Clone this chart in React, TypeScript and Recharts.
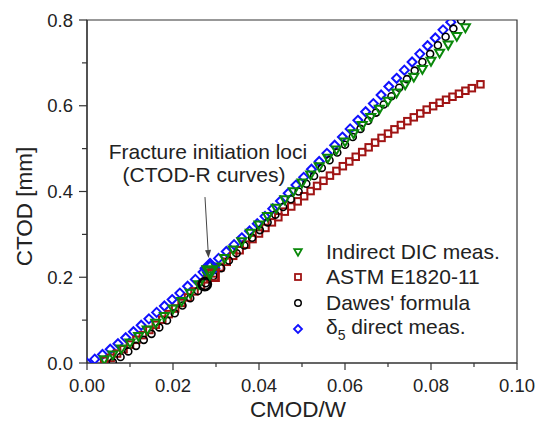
import React from "react";
import {
  ScatterChart,
  Scatter,
  XAxis,
  YAxis,
  ReferenceArea,
  ReferenceLine,
  Label,
} from "recharts";

// CMOD/W vs CTOD [mm]
const blueX = [0, 0.0018, 0.0036, 0.0054, 0.0072, 0.009, 0.0108, 0.0126, 0.0144, 0.0162, 0.018, 0.0198, 0.0216, 0.0234, 0.0252, 0.027, 0.0288, 0.0306, 0.0324, 0.0342, 0.036, 0.0378, 0.0396, 0.0414, 0.0432, 0.045, 0.0468, 0.0486, 0.0504, 0.0522, 0.054, 0.0558, 0.0576, 0.0594, 0.0612, 0.063, 0.0648, 0.0666, 0.0684, 0.0702, 0.072, 0.0738, 0.0756, 0.0774, 0.0792, 0.081, 0.0828, 0.0846];
const blueY = [0, 0.009, 0.02, 0.032, 0.045, 0.059, 0.073, 0.088, 0.103, 0.118, 0.133, 0.148, 0.163, 0.179, 0.195, 0.212, 0.228, 0.244, 0.26, 0.276, 0.292, 0.308, 0.325, 0.342, 0.36, 0.378, 0.396, 0.415, 0.433, 0.452, 0.47, 0.489, 0.508, 0.527, 0.546, 0.566, 0.586, 0.605, 0.625, 0.645, 0.664, 0.683, 0.702, 0.721, 0.74, 0.758, 0.777, 0.795];

const greenX = [0.004, 0.006, 0.008, 0.01, 0.012, 0.014, 0.016, 0.018, 0.02, 0.022, 0.024, 0.026, 0.028, 0.03, 0.032, 0.034, 0.036, 0.038, 0.04, 0.042, 0.044, 0.046, 0.048, 0.05, 0.052, 0.054, 0.056, 0.058, 0.06, 0.062, 0.064, 0.066, 0.068, 0.07, 0.072, 0.074, 0.076, 0.078, 0.08, 0.082, 0.084, 0.086, 0.088];
const greenY = [0.008, 0.019, 0.033, 0.047, 0.062, 0.077, 0.093, 0.109, 0.126, 0.144, 0.163, 0.183, 0.204, 0.224, 0.244, 0.264, 0.283, 0.303, 0.322, 0.342, 0.361, 0.381, 0.4, 0.42, 0.439, 0.458, 0.478, 0.497, 0.516, 0.535, 0.554, 0.573, 0.592, 0.611, 0.63, 0.649, 0.667, 0.685, 0.704, 0.723, 0.742, 0.762, 0.782];

const blackX = [0.006, 0.0078, 0.0096, 0.0114, 0.0132, 0.015, 0.0168, 0.0186, 0.0204, 0.0222, 0.024, 0.0258, 0.0276, 0.0294, 0.0312, 0.033, 0.0348, 0.0366, 0.0384, 0.0402, 0.042, 0.0438, 0.0456, 0.0474, 0.0492, 0.051, 0.0528, 0.0546, 0.0564, 0.0582, 0.06, 0.0618, 0.0636, 0.0654, 0.0672, 0.069, 0.0708, 0.0726, 0.0744, 0.0762, 0.078, 0.0798, 0.0816, 0.0834, 0.0852, 0.087];
const blackY = [0.002, 0.014, 0.027, 0.04, 0.054, 0.068, 0.083, 0.099, 0.116, 0.134, 0.151, 0.168, 0.186, 0.203, 0.221, 0.239, 0.256, 0.274, 0.292, 0.31, 0.328, 0.346, 0.364, 0.382, 0.4, 0.418, 0.436, 0.455, 0.473, 0.491, 0.509, 0.527, 0.546, 0.565, 0.584, 0.603, 0.622, 0.642, 0.662, 0.682, 0.702, 0.721, 0.741, 0.761, 0.78, 0.799];

const redX = [0.004, 0.0055, 0.007, 0.0085, 0.01, 0.0115, 0.013, 0.0145, 0.016, 0.0175, 0.019, 0.0205, 0.022, 0.0235, 0.025, 0.0265, 0.028, 0.0295, 0.031, 0.0325, 0.034, 0.0355, 0.037, 0.0385, 0.04, 0.0415, 0.043, 0.0445, 0.046, 0.0475, 0.049, 0.0505, 0.052, 0.0535, 0.055, 0.0565, 0.058, 0.0595, 0.061, 0.0625, 0.064, 0.0655, 0.067, 0.0685, 0.07, 0.0715, 0.073, 0.0745, 0.076, 0.0775, 0.079, 0.0805, 0.082, 0.0835, 0.085, 0.0865, 0.088, 0.0895, 0.0915];
const redY = [0.005, 0.012, 0.022, 0.032, 0.043, 0.054, 0.065, 0.077, 0.089, 0.101, 0.114, 0.127, 0.14, 0.153, 0.167, 0.181, 0.195, 0.209, 0.223, 0.236, 0.25, 0.263, 0.276, 0.289, 0.302, 0.315, 0.328, 0.34, 0.353, 0.365, 0.377, 0.389, 0.401, 0.413, 0.425, 0.437, 0.448, 0.459, 0.47, 0.481, 0.492, 0.503, 0.514, 0.525, 0.535, 0.545, 0.555, 0.564, 0.573, 0.582, 0.591, 0.599, 0.607, 0.614, 0.621, 0.628, 0.635, 0.641, 0.65];

// fracture initiation points: green, red, black, blue
const initX = [0.0286, 0.0293, 0.0274, 0.0286];
const initY = [0.213, 0.205, 0.184, 0.221];

// arrow from the annotation down to the initiation loci
const arrowX = [0.02744, 0.02826];
const arrowY = [0.387, 0.245];

const xTicks = [0, 0.01, 0.02, 0.03, 0.04, 0.05, 0.06, 0.07, 0.08, 0.09, 0.1];
const yTicks = [0, 0.1, 0.2, 0.3, 0.4, 0.5, 0.6, 0.7, 0.8];

const GREEN = "#0a880a";
const RED = "#a01414";
const BLACK = "#000000";
const BLUE = "#1010ff";
const AXIS = "#333333";
const FONT = "'Liberation Sans', Arial, sans-serif";

const toPoints = (xs: number[], ys: number[]) => xs.map((x, i) => ({ x, y: ys[i] }));

const diamond = (size: number, color: string, sw: number) => (p: any) => {
  const h = size / 2;
  return (
    <path
      d={`M${p.cx},${p.cy - h}L${p.cx + h},${p.cy}L${p.cx},${p.cy + h}L${p.cx - h},${p.cy}Z`}
      fill="none"
      stroke={color}
      strokeWidth={sw}
    />
  );
};

const square = (size: number, color: string, sw: number) => (p: any) => (
  <rect x={p.cx - size / 2} y={p.cy - size / 2} width={size} height={size} fill="none" stroke={color} strokeWidth={sw} />
);

const circle = (size: number, color: string, sw: number) => (p: any) => (
  <circle cx={p.cx} cy={p.cy} r={size / 2} fill="none" stroke={color} strokeWidth={sw} />
);

const downTriangle = (size: number, color: string, sw: number) => (p: any) => {
  const h = size / 2;
  return (
    <path
      d={`M${p.cx - h},${p.cy - h * 0.75}L${p.cx + h},${p.cy - h * 0.75}L${p.cx},${p.cy + h}Z`}
      fill="none"
      stroke={color}
      strokeWidth={sw}
      strokeLinejoin="miter"
    />
  );
};

const XTick = (props: any) => {
  const { x, y, payload } = props;
  const major = Math.round(payload.value * 100) % 2 === 0;
  return (
    <g>
      <line x1={x} x2={x} y1={y} y2={y + (major ? 7 : 4)} stroke={AXIS} strokeWidth={1.2} />
      {major && (
        <text x={x} y={y + 29} textAnchor="middle" fontSize={18.5} fontFamily={FONT} fill="#222">
          {payload.value.toFixed(2)}
        </text>
      )}
    </g>
  );
};

const YTick = (props: any) => {
  const { x, y, payload } = props;
  const major = Math.round(payload.value * 10) % 2 === 0;
  return (
    <g>
      <line x1={x} x2={x - (major ? 8 : 5)} y1={y} y2={y} stroke={AXIS} strokeWidth={1.2} />
      {major && (
        <text x={x - 14} y={y + 6.5} textAnchor="end" fontSize={18.5} fontFamily={FONT} fill="#222">
          {payload.value.toFixed(1)}
        </text>
      )}
    </g>
  );
};

const Arrow = (props: any) => {
  const { x1, y1, x2, y2 } = props;
  const dx = x2 - x1;
  const dy = y2 - y1;
  const len = Math.sqrt(dx * dx + dy * dy);
  const ux = dx / len;
  const uy = dy / len;
  const hl = 8;
  const hw = 3;
  const bx = x2 - ux * hl;
  const by = y2 - uy * hl;
  return (
    <g>
      <line x1={x1} y1={y1} x2={bx} y2={by} stroke="#444" strokeWidth={1} />
      <path
        d={`M${x2},${y2}L${bx - uy * hw},${by + ux * hw}L${bx + uy * hw},${by - ux * hw}Z`}
        fill="#444"
      />
      <text x={x1 + 3} y={y1 - 38} textAnchor="middle" fontSize={21} fontFamily={FONT} fill="#222">
        Fracture initiation loci
      </text>
      <text x={x1 - 1} y={y1 - 15} textAnchor="middle" fontSize={21} fontFamily={FONT} fill="#222">
        (CTOD-R curves)
      </text>
    </g>
  );
};

const legendItems = [
  { name: "Indirect DIC meas.", shape: downTriangle(7.5, GREEN, 1.8) },
  { name: "ASTM E1820-11", shape: square(6, RED, 1.8) },
  { name: "Dawes' formula", shape: circle(6.5, BLACK, 1.5) },
  { name: "δ5 direct meas.", shape: diamond(8, BLUE, 1.8) },
];

export default function App() {
  const blue = toPoints(blueX, blueY);
  const green = toPoints(greenX, greenY);
  const black = toPoints(blackX, blackY);
  const red = toPoints(redX, redY);

  return (
    <div style={{ position: "absolute", left: 0, top: 0, width: 537, height: 423, background: "#fff" }}>
      <ScatterChart width={537} height={423} margin={{ top: 20, right: 20, bottom: 0, left: 0 }}>
        <XAxis
          type="number"
          dataKey="x"
          domain={[0, 0.1]}
          ticks={xTicks}
          interval={0}
          allowDataOverflow
          height={60}
          tickSize={0}
          tickMargin={0}
          tickLine={false}
          axisLine={{ stroke: AXIS, strokeWidth: 1.2 }}
          tick={<XTick />}
        >
          <Label
            content={(p: any) => {
              const vb = p.viewBox;
              return (
                <text x={vb.x + vb.width / 2 - 4} y={vb.y + 54} textAnchor="middle" fontSize={22.5} fontFamily={FONT} fill="#222">
                  CMOD/W
                </text>
              );
            }}
          />
        </XAxis>
        <YAxis
          type="number"
          dataKey="y"
          domain={[0, 0.8]}
          ticks={yTicks}
          interval={0}
          allowDataOverflow
          width={87}
          tickSize={0}
          tickMargin={0}
          tickLine={false}
          axisLine={{ stroke: AXIS, strokeWidth: 1.2 }}
          tick={<YTick />}
        >
          <Label
            content={(p: any) => {
              const vb = p.viewBox;
              const cx = vb.x + 24;
              const cy = vb.y + vb.height / 2 + 15;
              return (
                <text
                  x={cx}
                  y={cy}
                  transform={`rotate(-90, ${cx}, ${cy})`}
                  textAnchor="middle"
                  dominantBaseline="central"
                  fontSize={22.5}
                  fontFamily={FONT}
                  fill="#222"
                >
                  CTOD [mm]
                </text>
              );
            }}
          />
        </YAxis>
        <ReferenceArea x1={0} x2={0.1} y1={0} y2={0.8} fill="none" stroke={AXIS} strokeWidth={1.2} />
        <Scatter name="δ5 direct meas." data={blue} shape={diamond(9, BLUE, 2)} isAnimationActive={false} />
        <Scatter name="ASTM E1820-11" data={red} shape={square(6.5, RED, 2)} isAnimationActive={false} />
        <Scatter name="Dawes' formula" data={black} shape={circle(7, BLACK, 1.6)} isAnimationActive={false} />
        <Scatter name="Indirect DIC meas." data={green} shape={downTriangle(9, GREEN, 2)} isAnimationActive={false} />
        <Scatter data={[{ x: initX[3], y: initY[3] }]} shape={diamond(17, BLUE, 3.2)} isAnimationActive={false} />
        <Scatter data={[{ x: initX[1], y: initY[1] }]} shape={square(11, RED, 2.8)} isAnimationActive={false} />
        <Scatter data={[{ x: initX[2], y: initY[2] }]} shape={circle(12, BLACK, 2.8)} isAnimationActive={false} />
        <Scatter data={[{ x: initX[0], y: initY[0] }]} shape={downTriangle(13, GREEN, 3.2)} isAnimationActive={false} />
        <ReferenceLine
          segment={[
            { x: arrowX[0], y: arrowY[0] },
            { x: arrowX[1], y: arrowY[1] },
          ]}
          shape={<Arrow />}
        />
      </ScatterChart>
      <div style={{ position: "absolute", left: 288, top: 239, fontFamily: FONT, fontSize: 21, color: "#222" }}>
        {legendItems.map((item, i) => (
          <div key={i} style={{ display: "flex", alignItems: "center", height: 25.6, whiteSpace: "nowrap" }}>
            <svg width={20} height={20} style={{ marginRight: 18 }}>
              {item.shape({ cx: 10, cy: 10 })}
            </svg>
            {i === 3 ? (
              <span>
                δ<sub style={{ fontSize: 14, verticalAlign: -6 }}>5</sub> direct meas.
              </span>
            ) : (
              <span>{item.name}</span>
            )}
          </div>
        ))}
      </div>
    </div>
  );
}
